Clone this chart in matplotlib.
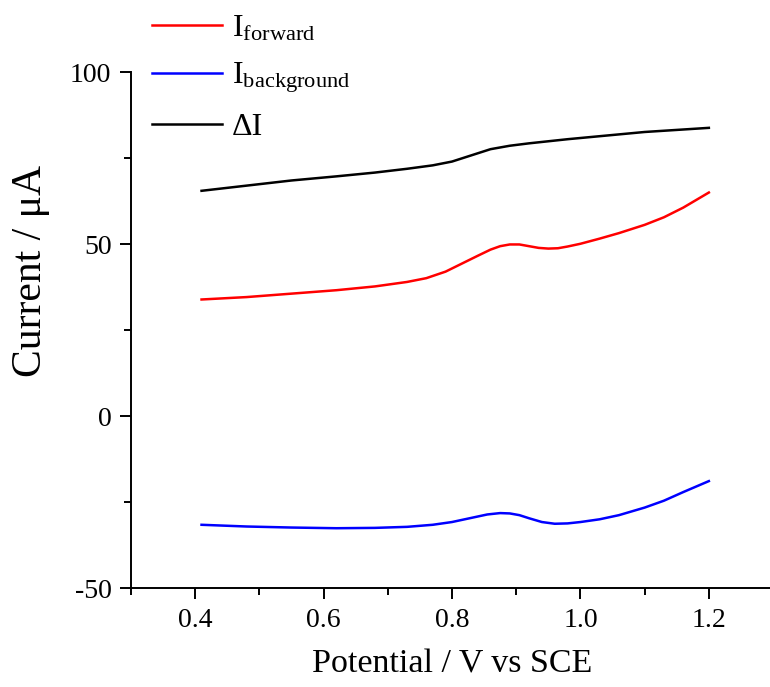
import numpy as np
import matplotlib
matplotlib.use('Agg')
import matplotlib.pyplot as plt
from matplotlib.ticker import MultipleLocator

plt.rcParams['font.family'] = ['Liberation Serif', 'DejaVu Serif']
plt.rcParams['mathtext.fontset'] = 'custom'
plt.rcParams['mathtext.rm'] = 'Liberation Serif'
plt.rcParams['axes.unicode_minus'] = False

# Potential (V vs SCE) and currents (uA)
E_fwd = [0.41, 0.48, 0.55, 0.62, 0.68, 0.73, 0.76, 0.79, 0.815, 0.84, 0.86, 0.875,
         0.89, 0.905, 0.92, 0.935, 0.95, 0.965, 0.98, 1.0, 1.03, 1.06, 1.1, 1.13, 1.16, 1.2]
I_fwd = [33.9, 34.6, 35.6, 36.6, 37.7, 39.0, 40.1, 42.0, 44.3, 46.6, 48.4, 49.4,
         49.9, 49.9, 49.4, 48.9, 48.7, 48.8, 49.3, 50.1, 51.6, 53.2, 55.6, 57.8, 60.6, 65.0]

E_bg = [0.41, 0.48, 0.55, 0.62, 0.68, 0.73, 0.77, 0.8, 0.83, 0.855, 0.875, 0.89,
        0.905, 0.92, 0.94, 0.96, 0.98, 1.0, 1.03, 1.06, 1.1, 1.13, 1.16, 1.2]
I_bg = [-31.6, -32.1, -32.4, -32.6, -32.5, -32.2, -31.6, -30.8, -29.6, -28.6, -28.2, -28.3,
        -28.8, -29.7, -30.8, -31.3, -31.2, -30.8, -30.0, -28.8, -26.6, -24.6, -22.1, -18.9]

E_diff = [0.41, 0.48, 0.55, 0.62, 0.68, 0.73, 0.77, 0.8, 0.83, 0.86, 0.89, 0.92,
          0.95, 0.98, 1.02, 1.06, 1.1, 1.15, 1.2]
I_diff = [65.5, 67.0, 68.5, 69.7, 70.8, 71.9, 72.9, 74.0, 75.8, 77.6, 78.6, 79.3,
          79.9, 80.5, 81.2, 81.9, 82.6, 83.2, 83.8]

fig = plt.figure(figsize=(7.7, 6.87), dpi=100)
ax = fig.add_axes([0.170, 0.144, 0.834, 0.751])

ax.plot(E_fwd, I_fwd, color='red', lw=1.8, label=r'$\mathrm{I_{forward}}$')
ax.plot(E_bg, I_bg, color='blue', lw=1.8, label=r'$\mathrm{I_{background}}$')
ax.plot(E_diff, I_diff, color='black', lw=1.8, label='ΔI')

ax.set_xlim(0.3, 1.3)
ax.set_ylim(-50, 100)
ax.xaxis.set_minor_locator(MultipleLocator(0.1))
ax.yaxis.set_major_locator(MultipleLocator(50))
ax.yaxis.set_minor_locator(MultipleLocator(25))
ax.set_xticks([0.4, 0.6, 0.8, 1.0, 1.2])
ax.set_xticklabels(['0.4', '0.6', '0.8', '1.0', '1.2'])

for s in ['top', 'right']:
    ax.spines[s].set_visible(False)
for s in ['left', 'bottom']:
    ax.spines[s].set_linewidth(1.4)

ax.tick_params(which='major', direction='out', length=8, width=1.4, labelsize=20, pad=6)
ax.tick_params(which='minor', direction='out', length=5, width=1.4)

ax.set_xlabel('Potential / V vs SCE', fontsize=24.5, labelpad=12)
ax.set_ylabel('Current / μA', fontsize=30)
ax.yaxis.set_label_coords(-0.126, 0.614)

ax.legend(loc='upper left', bbox_to_anchor=(0.197, 0.98), bbox_transform=fig.transFigure,
          frameon=False, fontsize=23, handlelength=2.2, handletextpad=0.3,
          labelspacing=0.55, borderaxespad=0.0, borderpad=0.0)

fig.savefig('out.png', dpi=100)
